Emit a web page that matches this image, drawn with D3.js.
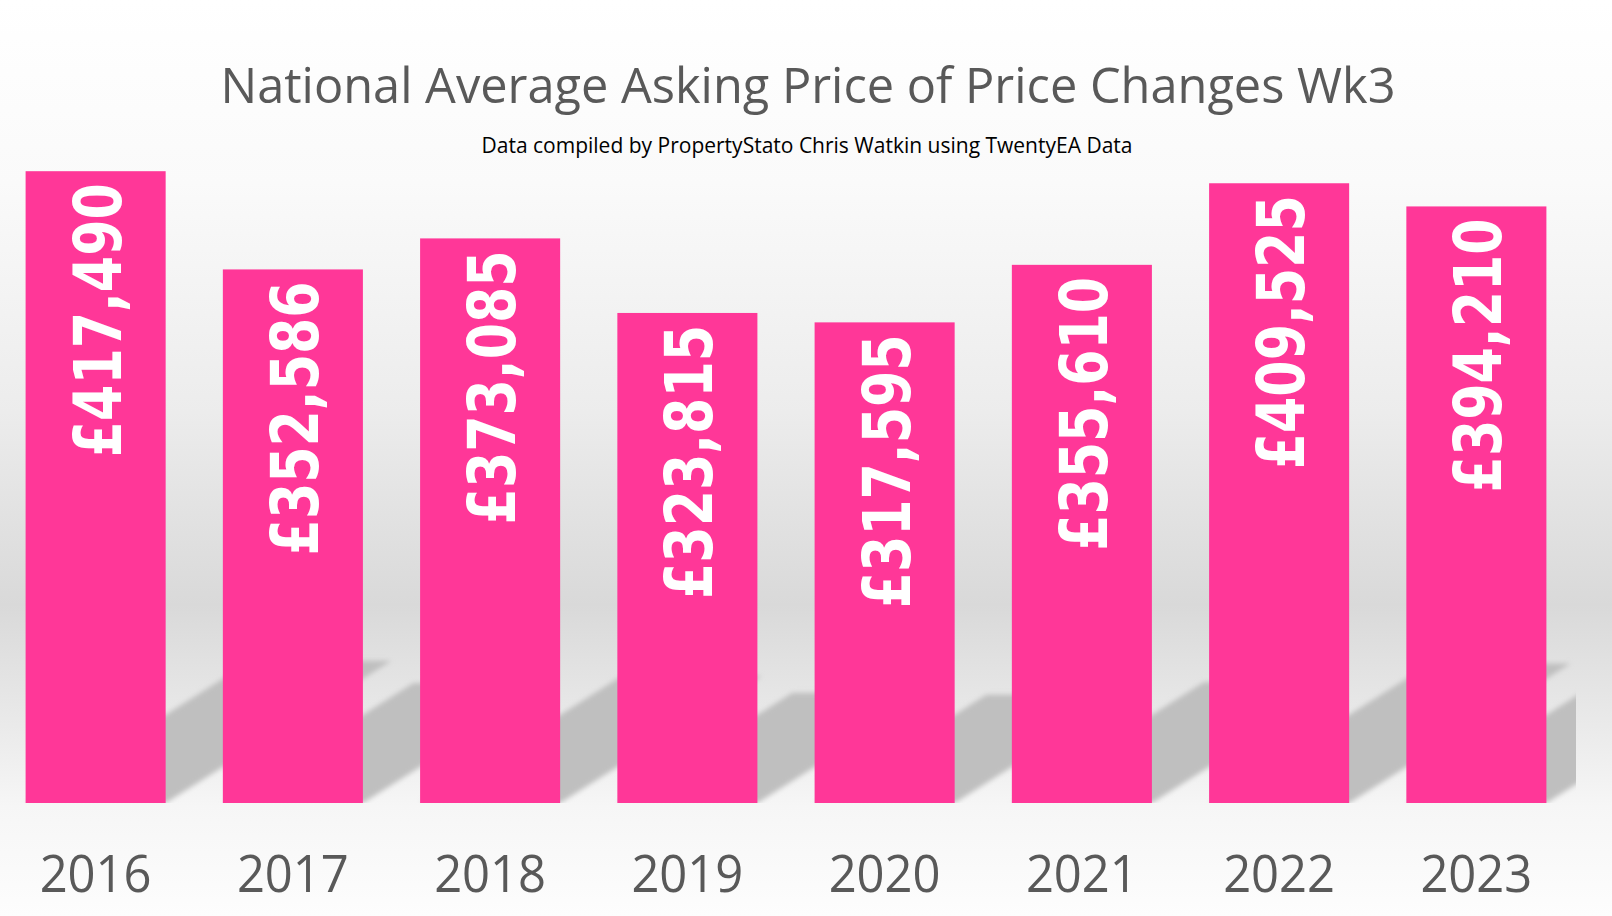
<!DOCTYPE html>
<html>
<head>
<meta charset="utf-8">
<script src="https://d3js.org/d3.v7.min.js"></script>
<style>
    body { margin: 0; background: #ffffff; }
    .chart-area { width: 1612px; height: 916px; }
</style>
</head>
<body>
<div class="chart-area"></div>
<script>

// values
let years = ["2016", "2017", "2018", "2019", "2020", "2021", "2022", "2023"];
let askingPrices = [417490, 352586, 373085, 323815, 317595, 355610, 409525, 394210];
let titleText = "National Average Asking Price of Price Changes Wk3";
let subtitleText = "Data compiled by PropertyStato Chris Watkin using TwentyEA Data";

class PriceBarChart {

    constructor(parentElement, years, prices) {
        this.parentElement = parentElement;
        this.years = years;
        this.prices = prices;
        this.displayData = [];

        this.initVis();
    }

    initVis() {
        let vis = this;
        vis.width = 1612;
        vis.height = 916;
        vis.plot = {left: -3, right: 1575, top: 122, bottom: 803, clipRight: 1576};

        vis.svg = d3.select("." + vis.parentElement).append("svg")
            .attr("width", vis.width)
            .attr("height", vis.height);

        let defs = vis.svg.append("defs");

        // slide style background: white -> grey floor -> white
        let grad = defs.append("linearGradient")
            .attr("id", "bg-grad")
            .attr("x1", 0).attr("y1", 0).attr("x2", 0).attr("y2", 1);
        [[0, "#ffffff"], [0.2, "#fafafa"], [0.45, "#ececec"], [0.66, "#d9d9d9"],
         [0.8, "#ebebeb"], [0.88, "#f6f6f6"], [1, "#fdfdfd"]].forEach(function (s) {
            grad.append("stop").attr("offset", s[0]).attr("stop-color", s[1]);
        });

        defs.append("filter")
            .attr("id", "shadow-blur")
            .attr("x", "-10%").attr("y", "-10%").attr("width", "120%").attr("height", "120%")
            .append("feGaussianBlur")
            .attr("stdDeviation", 2.5);

        defs.append("clipPath")
            .attr("id", "plot-clip")
            .append("rect")
            .attr("x", 0).attr("y", 0)
            .attr("width", vis.plot.clipRight)
            .attr("height", vis.plot.bottom);

        vis.svg.append("rect")
            .attr("width", vis.width)
            .attr("height", vis.height)
            .attr("fill", "url(#bg-grad)");

        vis.x = d3.scaleBand()
            .domain(vis.years)
            .range([vis.plot.left, vis.plot.right])
            .paddingInner(0.29)
            .paddingOuter(0.145);

        vis.y = d3.scaleLinear()
            .domain([0, 450000])
            .range([vis.plot.bottom, vis.plot.top]);

        vis.wrangleData();
    }

    wrangleData() {
        let vis = this;
        vis.displayData = vis.years.map(function (yr, i) {
            return {year: yr, price: vis.prices[i]};
        });
        vis.updateVis();
    }

    updateVis() {
        let vis = this;
        let bw = vis.x.bandwidth();
        let base = vis.y(0);

        // floor shadows, skewed back and to the right
        function shadowPath(d) {
            let x0 = vis.x(d.year);
            let h = base - vis.y(d.price);
            let dy = 0.225 * h;
            let dx = dy / 0.63;
            return "M" + x0 + "," + base +
                "L" + (x0 + bw) + "," + base +
                "L" + (x0 + bw + dx) + "," + (base - dy) +
                "L" + (x0 + dx) + "," + (base - dy) + "Z";
        }

        vis.svg.append("g")
            .attr("clip-path", "url(#plot-clip)")
            .append("g")
            .attr("filter", "url(#shadow-blur)")
            .selectAll(".shadow")
            .data(vis.displayData)
            .enter()
            .append("path")
            .attr("class", "shadow")
            .attr("d", shadowPath)
            .attr("fill", "#bfbfbf");

        // bars
        vis.svg.selectAll(".bar")
            .data(vis.displayData)
            .enter()
            .append("rect")
            .attr("class", "bar")
            .attr("x", d => vis.x(d.year))
            .attr("y", d => vis.y(d.price))
            .attr("width", bw)
            .attr("height", d => base - vis.y(d.price))
            .attr("fill", "#ff3798");

        // rotated value labels inside bars
        let fmt = d3.format(",");
        vis.svg.selectAll(".value-label")
            .data(vis.displayData)
            .enter()
            .append("text")
            .attr("class", "value-label")
            .attr("transform", d => "translate(" + (vis.x(d.year) + bw / 2 + 25) + "," + (vis.y(d.price) + 12) + ") rotate(-90)")
            .attr("text-anchor", "end")
            .attr("textLength", 274)
            .attr("lengthAdjust", "spacingAndGlyphs")
            .style("font-family", "'DejaVu Sans', Verdana, sans-serif")
            .style("font-weight", "bold")
            .style("font-size", "66px")
            .attr("fill", "#ffffff")
            .text(d => "£" + fmt(d.price));

        // year labels along the bottom
        vis.svg.selectAll(".year-label")
            .data(vis.displayData)
            .enter()
            .append("text")
            .attr("class", "year-label")
            .attr("x", d => vis.x(d.year) + bw / 2)
            .attr("y", 892)
            .attr("text-anchor", "middle")
            .attr("textLength", 112)
            .attr("lengthAdjust", "spacingAndGlyphs")
            .style("font-family", "'Open Sans', Lato, sans-serif")
            .style("font-size", "51px")
            .attr("fill", "#595959")
            .text(d => d.year);

        // titles
        vis.svg.append("text")
            .attr("x", 808)
            .attr("y", 103)
            .attr("text-anchor", "middle")
            .attr("textLength", 1175)
            .attr("lengthAdjust", "spacingAndGlyphs")
            .style("font-family", "'Open Sans', Lato, sans-serif")
            .style("font-size", "49px")
            .attr("fill", "#595959")
            .text(titleText);

        vis.svg.append("text")
            .attr("x", 807)
            .attr("y", 153)
            .attr("text-anchor", "middle")
            .attr("textLength", 651)
            .attr("lengthAdjust", "spacingAndGlyphs")
            .style("font-family", "'Open Sans', Lato, sans-serif")
            .style("font-size", "21px")
            .attr("fill", "#000000")
            .text(subtitleText);
    }
}

let priceChart = new PriceBarChart("chart-area", years, askingPrices);

</script>
</body>
</html>
